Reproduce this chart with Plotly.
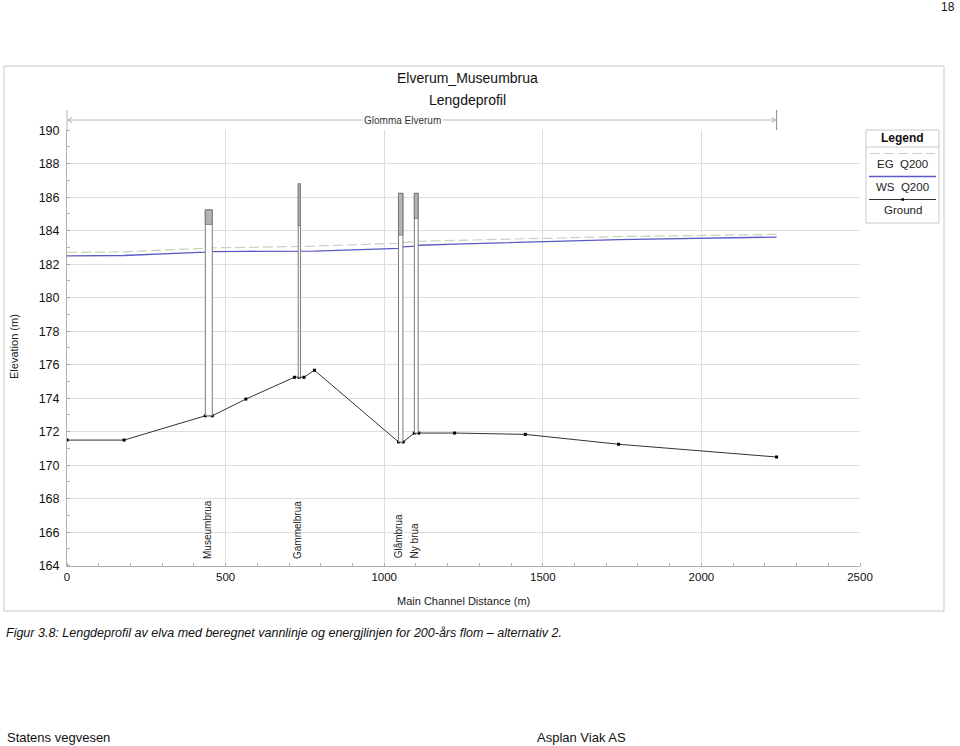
import plotly.graph_objects as go

# ---------------- data ----------------
station = [0, 180, 436, 458, 564, 717, 732, 747, 780, 1045, 1060, 1095, 1109, 1222, 1445, 1739, 2237]
ground = [171.5, 171.5, 172.95, 172.95, 173.95, 175.25, 175.25, 175.25, 175.67, 171.39, 171.39,
          171.92, 171.92, 171.92, 171.84, 171.25, 170.49]
ws_q200 = [182.5, 182.52, 182.72, 182.75, 182.77, 182.76, 182.76, 182.77, 182.78, 182.95, 183.03,
           183.08, 183.13, 183.2, 183.32, 183.47, 183.62]
eg_q200 = [182.7, 182.74, 182.95, 182.98, 183.0, 183.05, 183.06, 183.07, 183.08, 183.25, 183.3,
           183.32, 183.37, 183.42, 183.52, 183.65, 183.78]

bridge_names = ["Museumbrua", "Gammelbrua", "Glåmbrua", "Ny brua"]
bridge_x0 = [436, 729, 1045, 1095]
bridge_x1 = [458, 736, 1059, 1107]
bridge_top = [185.24, 186.8, 186.23, 186.23]
bridge_low = [184.38, 184.3, 183.74, 184.74]
bridge_bottom = [172.95, 175.25, 171.39, 171.92]

reach_name = "Glomma Elverum"
reach_start, reach_end = 0, 2237

x_ticks = [0, 500, 1000, 1500, 2000, 2500]
y_ticks = [164, 166, 168, 170, 172, 174, 176, 178, 180, 182, 184, 186, 188, 190]

W, H = 960, 746
FONT = "Liberation Sans, Arial, sans-serif"
EG_COLOR = "#c9d2bd"


def px(x):
    return x / W


def py(y):
    return 1 - y / H


def note(x, y, text, size=11, xanchor="center", yanchor="middle", color="#111", **kw):
    return dict(x=px(x), y=py(y), xref="paper", yref="paper", text=text, showarrow=False,
                xanchor=xanchor, yanchor=yanchor, font=dict(family=FONT, size=size, color=color), **kw)


fig = go.Figure()

shapes = []
annotations = []

# bridges
for name, x0, x1, top, low, bot in zip(bridge_names, bridge_x0, bridge_x1, bridge_top, bridge_low, bridge_bottom):
    shapes.append(dict(type="rect", xref="x", yref="y", x0=x0, x1=x1, y0=bot, y1=top,
                       line=dict(color="#7a7a7a", width=1), fillcolor="white", layer="above"))
    shapes.append(dict(type="rect", xref="x", yref="y", x0=x0, x1=x1, y0=low, y1=top,
                       line=dict(color="#7a7a7a", width=1), fillcolor="#b4b4b4", layer="above"))
    annotations.append(dict(x=(x0 + x1) / 2, y=164.3, xref="x", yref="y", text=name, textangle=-90,
                            showarrow=False, xanchor="center", yanchor="bottom", xshift=-2,
                            font=dict(family=FONT, size=10, color="#222")))

fig.add_trace(go.Scatter(x=station, y=eg_q200, mode="lines", name="EG  Q200",
                         line=dict(color=EG_COLOR, width=1.2, dash="10px,4px"), showlegend=False))
fig.add_trace(go.Scatter(x=station, y=ws_q200, mode="lines", name="WS  Q200",
                         line=dict(color="#5a5ac8", width=1.3), showlegend=False))
fig.add_trace(go.Scatter(x=station, y=ground, mode="lines+markers", name="Ground",
                         line=dict(color="#333333", width=1),
                         marker=dict(symbol="square", size=3, color="black"), showlegend=False))

# outer frame
shapes.append(dict(type="rect", xref="paper", yref="paper", x0=px(4), x1=px(944), y0=py(611), y1=py(66),
                   line=dict(color="#c8c8c8", width=1), layer="below"))

# left axis extension and reach line
shapes.append(dict(type="line", xref="paper", yref="paper", x0=px(67), x1=px(67), y0=py(130), y1=py(110),
                   line=dict(color="#b0b0b0", width=1)))
shapes.append(dict(type="line", xref="x", yref="paper", x0=reach_start, x1=reach_end, y0=py(120), y1=py(120),
                   line=dict(color="#b8b8b8", width=1)))
shapes.append(dict(type="line", xref="x", yref="paper", x0=reach_end, x1=reach_end, y0=py(130), y1=py(110),
                   line=dict(color="#909090", width=1)))
shapes.append(dict(type="path", xref="paper", yref="paper",
                   path=f"M {px(72)} {py(117.5)} L {px(68.5)} {py(120)} L {px(72)} {py(122.5)}",
                   line=dict(color="#aaaaaa", width=1)))
shapes.append(dict(type="path", xref="paper", yref="paper",
                   path=f"M {px(772)} {py(117.5)} L {px(775.5)} {py(120)} L {px(772)} {py(122.5)}",
                   line=dict(color="#aaaaaa", width=1)))
annotations.append(dict(x=(reach_start + reach_end) / 2 - 60, y=py(120), xref="x", yref="paper",
                        text=reach_name, showarrow=False, bgcolor="white", borderpad=1,
                        xanchor="center", yanchor="middle",
                        font=dict(family=FONT, size=10, color="#333")))

# titles
annotations.append(note(467, 78, "Elverum_Museumbrua", size=14))
annotations.append(note(467, 100, "Lengdeprofil", size=14))
annotations.append(note(463, 601, "Main Channel Distance (m)", size=11, color="#222"))
annotations.append(note(14, 347, "Elevation (m)", size=11, color="#222", textangle=-90))

# custom legend
shapes.append(dict(type="rect", xref="paper", yref="paper", x0=px(866), x1=px(939), y0=py(223), y1=py(130),
                   line=dict(color="#c8c8c8", width=1)))
shapes.append(dict(type="line", xref="paper", yref="paper", x0=px(866), x1=px(939), y0=py(147), y1=py(147),
                   line=dict(color="#c8c8c8", width=1)))
shapes.append(dict(type="line", xref="paper", yref="paper", x0=px(870), x1=px(935), y0=py(153.5), y1=py(153.5),
                   line=dict(color=EG_COLOR, width=1.2, dash="10px,4px")))
shapes.append(dict(type="line", xref="paper", yref="paper", x0=px(869), x1=px(936), y0=py(176.5), y1=py(176.5),
                   line=dict(color="#5a5ac8", width=1.3)))
shapes.append(dict(type="line", xref="paper", yref="paper", x0=px(869), x1=px(936), y0=py(199.5), y1=py(199.5),
                   line=dict(color="#333333", width=1)))
shapes.append(dict(type="rect", xref="paper", yref="paper", x0=px(901.5), x1=px(904), y0=py(200.7), y1=py(198.3),
                   line=dict(width=0), fillcolor="black"))
annotations.append(note(902.5, 137.5, "<b>Legend</b>", size=12))
for label, yy in [("EG  Q200", 164), ("WS  Q200", 187), ("Ground", 210)]:
    annotations.append(note(902.5, yy, label, size=11.5, color="#222"))

# page text
annotations.append(note(4, 633, "<i>Figur 3.8: Lengdeprofil av elva med beregnet vannlinje og energjlinjen "
                                "for 200-års flom – alternativ 2.</i>", size=12.5, xanchor="left"))
annotations.append(note(5, 737, "Statens vegvesen", size=13, xanchor="left"))
annotations.append(note(535, 737, "Asplan Viak AS", size=13, xanchor="left"))
annotations.append(note(957, 7, "18", size=12, xanchor="right"))

fig.update_layout(
    width=W, height=H, autosize=False,
    margin=dict(l=0, r=0, t=0, b=0, pad=0, autoexpand=False),
    paper_bgcolor="white", plot_bgcolor="white",
    showlegend=False,
    shapes=shapes, annotations=annotations,
    xaxis=dict(domain=[px(67), px(860)], range=[0, 2500], tickvals=x_ticks, automargin=False,
               showgrid=True, gridcolor="#dedede", gridwidth=1, zeroline=False,
               showline=True, linecolor="#b0b0b0", linewidth=1, ticks="",
               tickfont=dict(family=FONT, size=11.5, color="#111"),
               minor=dict(dtick=100, ticks="inside", ticklen=3, tickcolor="#b0b0b0", showgrid=False)),
    yaxis=dict(domain=[py(565.7), py(130.2)], range=[164, 190], tickvals=y_ticks, automargin=False,
               showgrid=True, gridcolor="#dedede", gridwidth=1, zeroline=False,
               showline=True, linecolor="#b0b0b0", linewidth=1, ticks="",
               ticklabelstandoff=4,
               tickfont=dict(family=FONT, size=12.5, color="#111"),
               minor=dict(dtick=1, ticks="inside", ticklen=3, tickcolor="#b0b0b0", showgrid=False)),
)

fig.write_html("out.html")
